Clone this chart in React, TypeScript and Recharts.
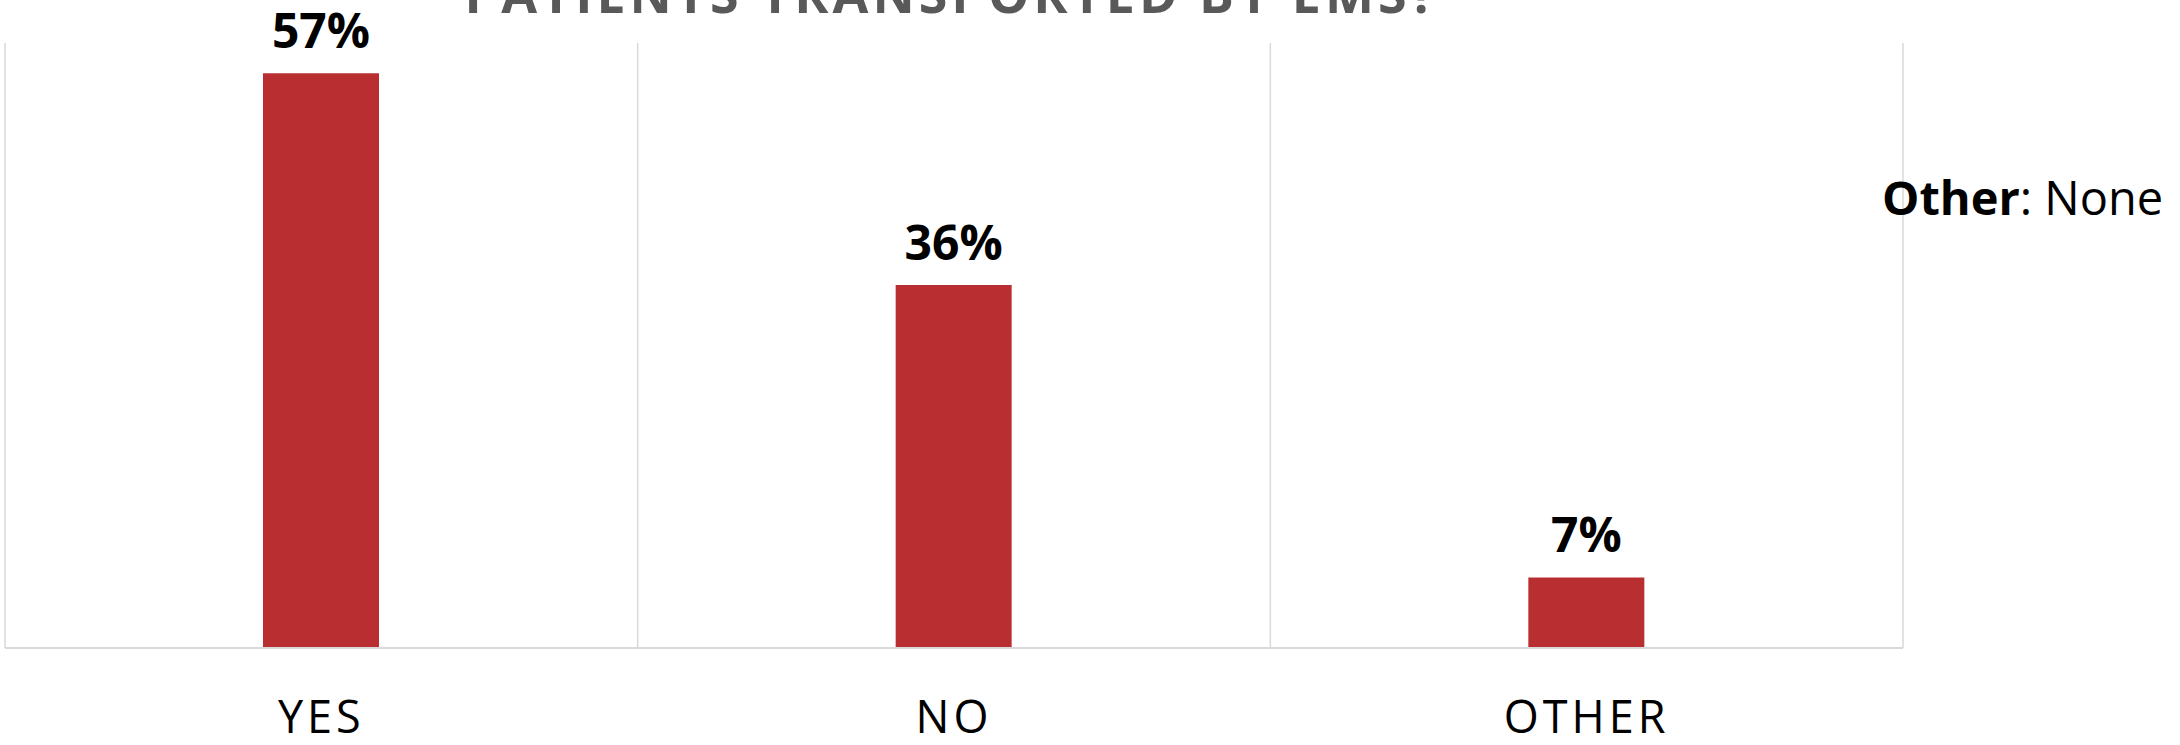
import { BarChart, Bar, XAxis, YAxis, CartesianGrid, LabelList } from 'recharts';

const categories = ['YES', 'NO', 'OTHER'];
const shares = [57, 36, 7];
const yTicks = [0, 60];

const chartTitle = 'PATIENTS TRANSPORTED BY EMS?';
const noteLabel = 'Other';
const noteValue = ': None';

const W = 2180;
const H = 745;
const BAR_COLOR = '#b82e31';
const GRID_COLOR = '#d9d9d9';
const FONT = '"Open Sans", sans-serif';

const data = categories.map((c, i) => ({ name: c, value: shares[i] }));

// etiqueta em cima de cada barra
// eslint-disable-next-line @typescript-eslint/no-explicit-any
function renderValueLabel(props: any) {
  const { x, y, width, value } = props;
  return (
    <text
      x={Number(x) + Number(width) / 2}
      y={Number(y) - 25}
      textAnchor="middle"
      fill="#000"
      fontFamily={FONT}
      fontWeight={700}
      fontSize={48}
    >
      {`${value}%`}
    </text>
  );
}

// eslint-disable-next-line @typescript-eslint/no-explicit-any
function renderTick(props: any) {
  const { x, payload } = props;
  return (
    <text
      x={x}
      y={733}
      textAnchor="middle"
      fill="#000"
      fontFamily={FONT}
      fontSize={45}
      letterSpacing={4}
    >
      {payload.value}
    </text>
  );
}

export default function App() {
  return (
    <div style={{ position: 'absolute', top: 0, left: 0, width: W, height: H, background: '#fff' }}>
      <BarChart
        width={W}
        height={H}
        data={data}
        margin={{ top: 43, right: 277, bottom: 0, left: 5 }}
        barCategoryGap={0}
      >
        <CartesianGrid
          horizontal={false}
          stroke={GRID_COLOR}
          strokeWidth={1.5}
          // eslint-disable-next-line @typescript-eslint/no-explicit-any
          verticalCoordinatesGenerator={({ offset }: any) => [
            offset.left,
            offset.left + offset.width / 3,
            offset.left + (offset.width * 2) / 3,
            offset.left + offset.width,
          ]}
        />
        <XAxis
          dataKey="name"
          height={97}
          axisLine={{ stroke: GRID_COLOR, strokeWidth: 2 }}
          tickLine={false}
          tick={renderTick}
          interval={0}
        />
        <YAxis hide domain={[yTicks[0], yTicks[1]]} ticks={yTicks} width={0} />
        <Bar dataKey="value" fill={BAR_COLOR} barSize={116} isAnimationActive={false}>
          <LabelList dataKey="value" content={renderValueLabel} />
        </Bar>
      </BarChart>
      <svg
        width={W}
        height={H}
        style={{ position: 'absolute', top: 0, left: 0, pointerEvents: 'none' }}
      >
        <text
          x={952}
          y={13}
          textAnchor="middle"
          fill="#595959"
          fontFamily={FONT}
          fontWeight={700}
          fontSize={52}
          letterSpacing={4}
        >
          {chartTitle}
        </text>
        <text x={1882} y={215} fill="#000" fontFamily={FONT} fontSize={47}>
          <tspan fontWeight={700}>{noteLabel}</tspan>
          <tspan>{noteValue}</tspan>
        </text>
      </svg>
    </div>
  );
}
